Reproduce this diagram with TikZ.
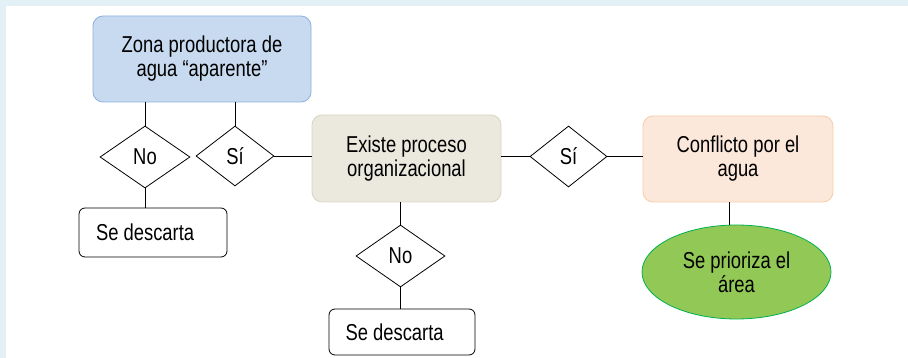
\documentclass[tikz,border=0pt]{standalone}
\usepackage{fontspec}
\setmainfont{Liberation Sans}[FakeStretch=0.8]
\usetikzlibrary{%
  shapes.geometric,% diamond, ellipse
  positioning,%
  calc
}
\definecolor{framebg}{RGB}{227,240,246}
\definecolor{zonafill}{RGB}{200,218,240}
\definecolor{zonadraw}{RGB}{140,176,224}
\definecolor{orgfill}{RGB}{235,233,222}
\definecolor{orgdraw}{RGB}{216,213,194}
\definecolor{conffill}{RGB}{252,232,218}
\definecolor{confdraw}{RGB}{248,204,170}
\definecolor{prifill}{RGB}{146,200,85}
\definecolor{pridraw}{RGB}{0,176,80}

\begin{document}
\begin{tikzpicture}
  [x=1pt, y=1pt, line width=0.8pt, draw=black,
   font=\fontsize{23}{24}\selectfont,
   mainbox/.style={rectangle, rounded corners=10pt, align=center, inner sep=0pt},
   endbox/.style={rectangle, rounded corners=6pt, draw=black, fill=white,
     inner xsep=17pt, inner ysep=0pt, align=flush left},
   choice/.style={diamond, draw=black, fill=white, inner sep=0pt, aspect=1.45}]

\fill[framebg] (0,0) rectangle (908,-358);
\fill[white] (6,-6) rectangle (908,-358);

\node[mainbox, draw=zonadraw, fill=zonafill, minimum width=218pt, minimum height=86pt]
  (zona) at (202,-59) {Zona productora de\\agua “aparente”};
\node[choice, minimum width=90pt, minimum height=62pt] (no1) at (145,-157) {No};
\node[choice, minimum width=78pt, minimum height=60pt] (si1) at (235,-156) {Sí};
\node[endbox, text width=114pt, minimum height=49pt] (desc1) at (153,-232.5) {Se descarta};

\node[mainbox, draw=orgdraw, fill=orgfill, minimum width=189pt, minimum height=87pt]
  (org) at (406.5,-158.5) {Existe proceso\\organizacional};
\node[choice, minimum width=89pt, minimum height=62pt] (no2) at (400.5,-256) {No};
\node[endbox, text width=113pt, inner xsep=16.5pt, minimum height=46pt] (desc2) at (402,-332) {Se descarta};

\node[choice, minimum width=77pt, minimum height=61pt] (si2) at (568.5,-156.5) {Sí};
\node[mainbox, draw=confdraw, fill=conffill, minimum width=190pt, minimum height=86pt]
  (conf) at (738,-159) {Conflicto por el\\agua};
\node[ellipse, draw=pridraw, fill=prifill, align=center, inner sep=0pt,
  minimum width=189pt, minimum height=94pt] (prio) at (736.5,-272) {Se prioriza el\\área};

\draw (zona.south -| no1) -- (no1.north);
\draw (zona.south -| si1) -- (si1.north);
\draw (no1.south) -- (desc1.north -| no1);
\draw (si1.east) -- (si1.east -| org.west);
\draw (org.south -| no2) -- (no2.north);
\draw (no2.south) -- (desc2.north -| no2);
\draw (org.east |- si2) -- (si2.west);
\draw (si2.east) -- (si2.east -| conf.west);
\draw ([xshift=-9pt]conf.south) -- ([xshift=-9pt]conf.south |- prio.north);
\end{tikzpicture}
\end{document}
